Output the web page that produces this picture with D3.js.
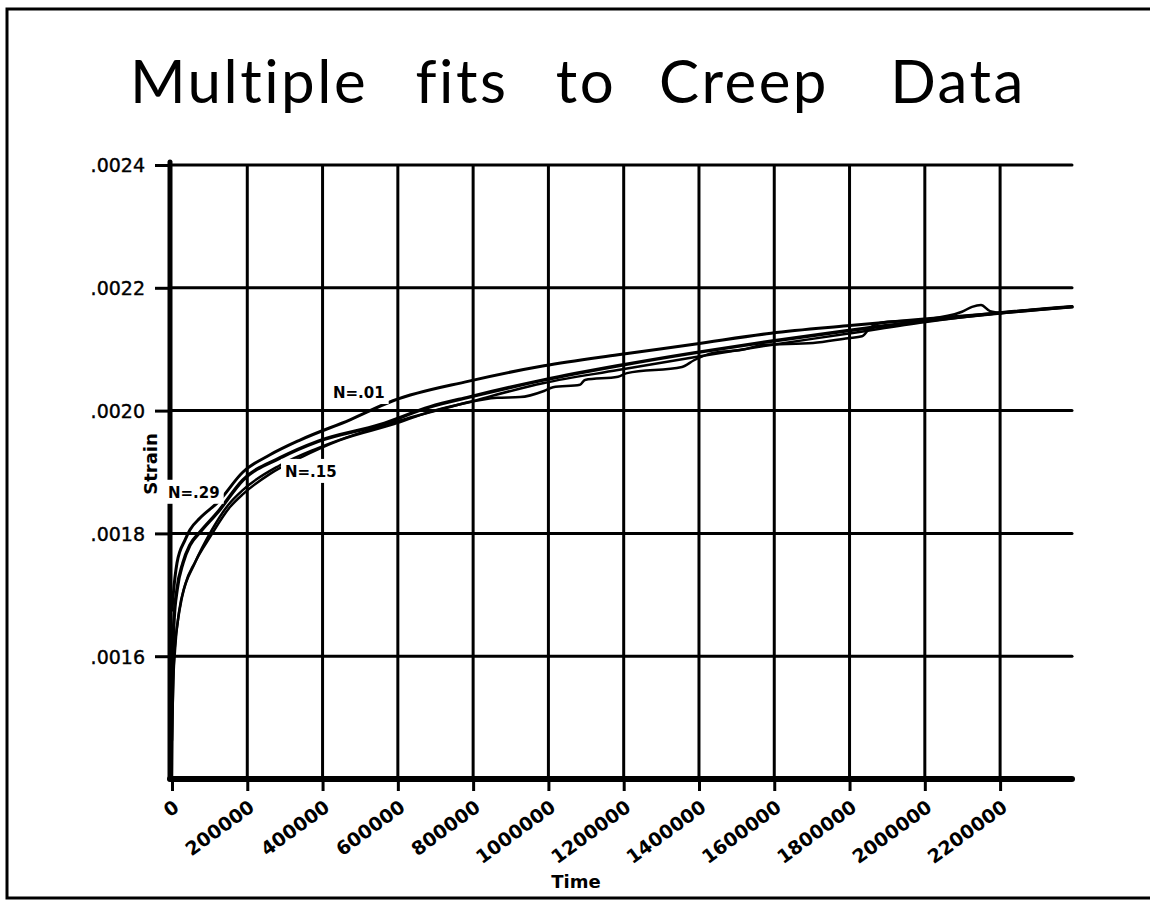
<!DOCTYPE html>
<meta charset="utf-8">
<style>
    body {
        margin: 0;
        background: #fff;
    }
    text {
        font-family: "DejaVu Sans", sans-serif;
        fill: #000;
    }
    .grid line, .frame {
        stroke: #000;
        fill: none;
    }
    .curve {
        fill: none;
        stroke: #000;
        stroke-linejoin: round;
        stroke-linecap: round;
    }
</style>

<body>
    <script src="https://cdn.jsdelivr.net/npm/d3@7"></script>
    <script>
        // values: [time, strain]
        var timeTicks = [0, 200000, 400000, 600000, 800000, 1000000, 1200000, 1400000, 1600000, 1800000, 2000000, 2200000]
        var strainTicks = [0.0016, 0.0018, 0.0020, 0.0022, 0.0024]

        var fitN01 = [
            [0, 0.001675], [2700, 0.001696], [13300, 0.001752], [34500, 0.001789], [47800, 0.001806],
            [74400, 0.001825], [122200, 0.001851], [188600, 0.001900], [260400, 0.001928], [340000, 0.001952],
            [472900, 0.001985], [587100, 0.002016], [789000, 0.002048], [988300, 0.002073], [1184900, 0.002091],
            [1386800, 0.002108], [1591400, 0.002126], [1793300, 0.002138], [1997900, 0.002149], [2199700, 0.002159],
            [2391000, 0.002169]
        ]
        var fitN15 = [
            [0, 0.001561], [5300, 0.001659], [13300, 0.001708], [29200, 0.001752], [47800, 0.001781],
            [74400, 0.001802], [122200, 0.001835], [188600, 0.001887], [286900, 0.001923], [387900, 0.001950],
            [552600, 0.001977], [685400, 0.002006], [789000, 0.002022], [988300, 0.002050], [1184900, 0.002073],
            [1386800, 0.002094], [1591400, 0.002113], [1793300, 0.002130], [1997900, 0.002146], [2199700, 0.002159],
            [2391000, 0.002169]
        ]
        var fitN29 = [
            [0, 0.001463], [5300, 0.001594], [15900, 0.001659], [26600, 0.001696], [61100, 0.001752],
            [106300, 0.001806], [148800, 0.001846], [188600, 0.001871], [286900, 0.001911], [387900, 0.001939],
            [589800, 0.001981], [789000, 0.002014], [988300, 0.002045], [1184900, 0.002066], [1386800, 0.002087],
            [1591400, 0.002107], [1793300, 0.002125], [1997900, 0.002144], [2199700, 0.002159], [2391000, 0.002169]
        ]
        var creepData = [
            [0, 0.001400], [1300, 0.001496], [2700, 0.001545], [8000, 0.001610], [18600, 0.001672],
            [34500, 0.001716], [61100, 0.001753], [100900, 0.001794], [154100, 0.001843], [188600, 0.001864],
            [260400, 0.001897], [340000, 0.001923], [446300, 0.001952], [589800, 0.001978], [685400, 0.001998],
            [757200, 0.002009], [863400, 0.002021], [924500, 0.002022], [988300, 0.002032], [1012200, 0.002038],
            [1083900, 0.002042], [1097200, 0.002050], [1184900, 0.002055], [1208800, 0.002061], [1354900, 0.002071],
            [1386800, 0.002082], [1437300, 0.002094], [1514300, 0.002099], [1570100, 0.002107], [1703000, 0.002110],
            [1796000, 0.002118], [1833100, 0.002121], [1854400, 0.002135], [1891600, 0.002144], [1995200, 0.002148],
            [2098800, 0.002161], [2125400, 0.002169], [2149300, 0.002172], [2173200, 0.002162], [2205100, 0.002159]
        ]

        var fitNames = ['N=.01', 'N=.15', 'N=.29']
        // where each fit label sits, in data units [time, strain]
        var fitLabelAt = [[427700, 0.0020205], [300200, 0.001892], [-10600, 0.001858]]

        var titleWords = ['Multiple', 'fits', 'to', 'Creep', 'Data']

        var width = 1150
        var height = 904

        var x = d3.scaleLinear().domain([0, 2391000]).range([172, 1072])
        var y = d3.scaleLinear().domain([0.0014, 0.0024]).range([779, 165])

        var svg = d3.select('body')
            .append('svg')
            .attr('width', width)
            .attr('height', height)

        // outer frame (right edge falls off the page)
        svg.append('rect')
            .attr('class', 'frame')
            .attr('x', 7)
            .attr('y', 9)
            .attr('width', 1160)
            .attr('height', 889)
            .attr('stroke-width', 3)

        // title, one word at a time for the wide gaps
        var wordMid = [249, 462, 586, 744, 958]
        svg.append('g')
            .selectAll('text')
            .data(titleWords)
            .enter().append('text')
            .attr('x', function (d, i) { return wordMid[i] })
            .attr('y', 103)
            .attr('text-anchor', 'middle')
            .style('font-family', 'Lato, sans-serif')
            .style('font-size', '60px')
            .style('letter-spacing', '2.5px')
            .text(function (d) { return d })

        // grid
        var grid = svg.append('g').attr('class', 'grid')
        grid.selectAll('.vgrid')
            .data(timeTicks.slice(1))
            .enter().append('line')
            .attr('x1', function (d) { return x(d) })
            .attr('x2', function (d) { return x(d) })
            .attr('y1', y(0.0024))
            .attr('y2', y(0.0014))
            .attr('stroke-width', 3)
        grid.selectAll('.hgrid')
            .data(strainTicks)
            .enter().append('line')
            .attr('x1', x(0))
            .attr('x2', x.range()[1])
            .attr('y1', function (d) { return y(d) })
            .attr('y2', function (d) { return y(d) })
            .attr('stroke-width', 3)
            .attr('stroke-linecap', 'round')

        // axes
        var xAxis = d3.axisBottom(x)
            .tickValues(timeTicks)
            .tickSizeInner(12)
            .tickSizeOuter(0)
            .tickFormat(d3.format('d'))

        var yAxis = d3.axisLeft(y)
            .tickValues(strainTicks)
            .tickSizeInner(15)
            .tickSizeOuter(0)
            .tickPadding(10)
            .tickFormat(function (d) { return d3.format('.4f')(d).replace(/^0/, '') })

        var gx = svg.append('g')
            .attr('transform', 'translate(0,' + y(0.0014) + ')')
            .call(xAxis)
        gx.select('.domain').remove()
        gx.selectAll('.tick line').attr('stroke', '#000').attr('stroke-width', 3)
        gx.selectAll('.tick text')
            .attr('x', 0)
            .attr('y', 0)
            .attr('dy', 0)
            .attr('text-anchor', 'end')
            .attr('transform', 'translate(8,31) rotate(-36)')
            .style('font-size', '19px')
            .style('font-weight', 'bold')
            .style('font-family', '"DejaVu Sans", sans-serif')

        var gy = svg.append('g')
            .attr('transform', 'translate(' + (x(0) - 2) + ',0)')
            .call(yAxis)
        gy.select('.domain').remove()
        gy.selectAll('.tick line').attr('stroke', '#000').attr('stroke-width', 3)
        gy.selectAll('.tick text')
            .attr('dy', '0.36em')
            .style('font-size', '19px')
            .style('stroke', '#000')
            .style('stroke-width', 0.4)
            .style('font-family', '"DejaVu Sans", sans-serif')

        // heavy axis lines
        svg.append('line')
            .attr('x1', x(0) - 2).attr('x2', x(0) - 2)
            .attr('y1', y(0.0024) - 3).attr('y2', y(0.0014))
            .attr('stroke', '#000').attr('stroke-width', 5).attr('stroke-linecap', 'round')
        svg.append('line')
            .attr('x1', x(0) - 2).attr('x2', x.range()[1])
            .attr('y1', y(0.0014)).attr('y2', y(0.0014))
            .attr('stroke', '#000').attr('stroke-width', 6).attr('stroke-linecap', 'round')

        // curves
        var line = d3.line()
            .x(function (d) { return x(d[0]) })
            .y(function (d) { return y(d[1]) })
            .curve(d3.curveMonotoneX)

        var series = [
            { values: fitN01, w: 3 },
            { values: fitN15, w: 3.5 },
            { values: fitN29, w: 2.5 },
            { values: creepData, w: 2.5 }
        ]
        svg.selectAll('.curve')
            .data(series)
            .enter().append('path')
            .attr('class', 'curve')
            .attr('d', function (d) { return line(d.values) })
            .attr('stroke-width', function (d) { return d.w })

        // fit labels, knocked out of whatever lies beneath
        fitNames.forEach(function (name, i) {
            var g = svg.append('g')
            var t = g.append('text')
                .attr('x', x(fitLabelAt[i][0]))
                .attr('y', y(fitLabelAt[i][1]))
                .style('font-size', '15px')
                .style('font-weight', 'bold')
                .text(name)
            var b = t.node().getBBox()
            g.insert('rect', 'text')
                .attr('x', b.x - 4)
                .attr('y', b.y - 4)
                .attr('width', b.width + 8)
                .attr('height', b.height + 6)
                .attr('fill', '#fff')
        })

        // axis titles
        svg.append('text')
            .attr('x', 576)
            .attr('y', 888)
            .attr('text-anchor', 'middle')
            .style('font-size', '18px')
            .style('font-weight', 'bold')
            .text('Time')

        svg.append('text')
            .attr('transform', 'translate(157,464) rotate(-90)')
            .attr('text-anchor', 'middle')
            .style('font-size', '18px')
            .style('font-weight', 'bold')
            .text('Strain')
    </script>
</body>
